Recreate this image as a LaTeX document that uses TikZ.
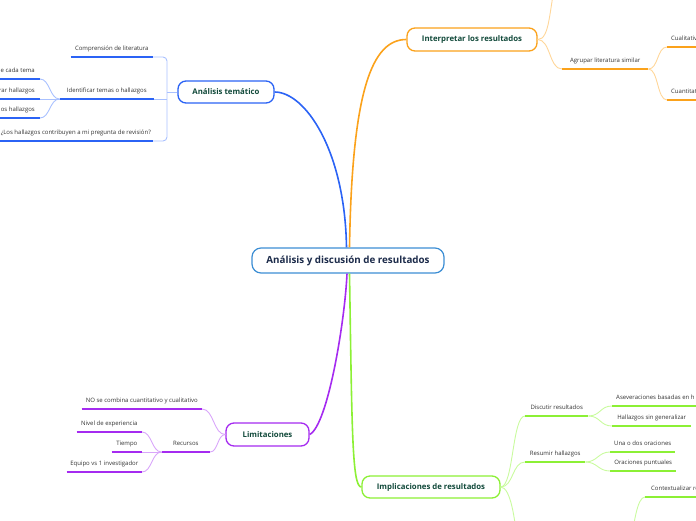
\documentclass[tikz,border=0pt]{standalone}
\usepackage{fontspec}
\setmainfont{Open Sans}
\definecolor{bmain}{HTML}{2B63F5}
\definecolor{blite}{HTML}{A9C1FF}
\definecolor{omain}{HTML}{FBA21B}
\definecolor{olite}{HTML}{FFD699}
\definecolor{pmain}{HTML}{A52BF0}
\definecolor{plite}{HTML}{D9A6FA}
\definecolor{gmain}{HTML}{8CF035}
\definecolor{glite}{HTML}{C9FB9E}
\definecolor{cborder}{HTML}{3C8ED4}
\definecolor{ctext}{HTML}{1C2B4A}
\definecolor{btext}{HTML}{124A3B}
\definecolor{ltext}{HTML}{333333}
\tikzset{
  central/.style={draw=cborder, line width=1.2pt, rounded corners=9pt, fill=white, text=ctext,
    font=\bfseries\fontsize{9.8}{11}\selectfont, minimum width=192pt, minimum height=25pt, inner sep=0pt},
  branch/.style={draw=#1, line width=1.3pt, rounded corners=8pt, fill=white, text=btext,
    font=\bfseries\fontsize{7.8}{9}\selectfont, inner sep=0pt},
  leaf/.style={text=ltext, font=\fontsize{6}{7}\selectfont, inner xsep=0pt, inner ysep=4.8pt,
    text height=4.5pt, text depth=1.4pt},
  mainedge/.style={line width=1.6pt},
  lite/.style={line width=0.9pt},
  uline/.style={line width=1.8pt},
}
\begin{document}
\begin{tikzpicture}[x=1pt,y=-1pt]
\useasboundingbox (0,0) rectangle (696,520);
\clip (0,0) rectangle (696,520);

% central and branch boxes
\node[central] (c) at (348,260.5) {Análisis y discusión de resultados};
\node[branch=bmain, minimum width=96pt, minimum height=22pt] (at) at (226,92) {Análisis temático};
\node[branch=omain, minimum width=130pt, minimum height=23pt] (ir) at (472,39.5) {Interpretar los resultados};
\node[branch=pmain, minimum width=83pt, minimum height=23pt] (li) at (267.5,434.5) {Limitaciones};
\node[branch=gmain, minimum width=138pt, minimum height=22pt] (im) at (431,487) {Implicaciones de resultados};

% main edges
\draw[bmain, mainedge] ([xshift=-1.5pt]c.north) .. controls (345,150) and (305,92) .. (at.east);
\draw[omain, mainedge] ([xshift=1.5pt]c.north) .. controls (352,90) and (372,39.5) .. (ir.west);
\draw[pmain, mainedge] (li.east) .. controls (328,425) and (345,320) .. ([xshift=-1pt]c.south);
\draw[gmain, mainedge] ([xshift=1.5pt]c.south) .. controls (352,430) and (352,487) .. (im.west);

% ---- Análisis temático (blue)
\node[leaf, anchor=south east, minimum width=82pt] (cmp) at (153,57) {Comprensión de literatura};
\node[leaf, anchor=south east, minimum width=94pt] (idt) at (154,99) {Identificar temas o hallazgos};
\node[leaf, anchor=south east, minimum width=154pt] (prg) at (153,141) {¿Los hallazgos contribuyen a mi pregunta de revisión?};
\node[leaf, anchor=south east, inner xsep=5pt] (g1) at (40,79) {e cada tema};
\node[leaf, anchor=south east, inner xsep=5pt] (g2) at (40,99) {rar hallazgos};
\node[leaf, anchor=south east, inner xsep=5pt] (g3) at (40,118) {os hallazgos};
\coordinate (atb) at (167,92);
\draw[blite, lite, rounded corners=4pt] (cmp.south east) -| (atb) |- (prg.south east);
\draw[blite, lite] (atb) -- (at.west);
\draw[blite, lite] (idt.south east) -- (idt.south east -| atb);
\draw[blite, lite] (g1.south east) .. controls +(10,0) and +(-10,0) .. (idt.south west);
\draw[blite, lite] (g2.south east) -- (idt.south west);
\draw[blite, lite] (g3.south east) .. controls +(10,0) and +(-10,0) .. (idt.south west);
\draw[bmain, uline] (cmp.south west) -- (cmp.south east);
\draw[bmain, uline] (idt.south west) -- (idt.south east);
\draw[bmain, uline] (prg.south west) -- (prg.south east);
\draw[bmain, uline] (g1.south east) -- ++(-50,0);
\draw[bmain, uline] (g2.south east) -- ++(-50,0);
\draw[bmain, uline] (g3.south east) -- ++(-50,0);

% ---- Interpretar los resultados (orange)
\node[leaf, anchor=south west, minimum width=86pt] (agr) at (562,69) {Agrupar literatura similar};
\node[leaf, anchor=south west, inner xsep=4pt] (cq1) at (667,47) {Cualitativ};
\node[leaf, anchor=south west, inner xsep=4pt] (cq2) at (667,100) {Cuantitat};
\coordinate (up) at (556,-20);
\draw[olite, lite] (ir.east) .. controls (550,39.5) and (549,10) .. (up);
\draw[olite, lite] (ir.east) .. controls +(13,0) and +(-13,0) .. (agr.south west);
\draw[olite, lite] (agr.south east) .. controls +(10,0) and +(-10,0) .. (cq1.south west);
\draw[olite, lite] (agr.south east) .. controls +(10,0) and +(-10,0) .. (cq2.south west);
\draw[omain, uline] (agr.south west) -- (agr.south east);
\draw[omain, uline] (cq1.south west) -- ++(40,0);
\draw[omain, uline] (cq2.south west) -- ++(40,0);

% ---- Limitaciones (purple)
\node[leaf, anchor=south east, minimum width=120pt] (nos) at (202,409) {NO se combina cuantitativo y cualitativo};
\node[leaf, anchor=south east, minimum width=48pt] (rec) at (210,452) {Recursos};
\node[leaf, anchor=south east, minimum width=65pt] (niv) at (142,432) {Nivel de experiencia};
\node[leaf, anchor=south east, minimum width=30pt] (tie) at (142,452) {Tiempo};
\node[leaf, anchor=south east, minimum width=75pt] (equ) at (142,472) {Equipo vs 1 investigador};
\draw[plite, lite] (li.west) .. controls +(-12,0) and +(12,0) .. (nos.south east);
\draw[plite, lite] (li.west) .. controls +(-8,0) and +(8,0) .. (rec.south east);
\draw[plite, lite] (rec.south west) .. controls +(-10,0) and +(10,0) .. (niv.south east);
\draw[plite, lite] (rec.south west) -- (tie.south east);
\draw[plite, lite] (rec.south west) .. controls +(-10,0) and +(10,0) .. (equ.south east);
\draw[pmain, uline] (nos.south west) -- (nos.south east);
\draw[pmain, uline] (rec.south west) -- (rec.south east);
\draw[pmain, uline] (niv.south west) -- (niv.south east);
\draw[pmain, uline] (tie.south west) -- (tie.south east);
\draw[pmain, uline] (equ.south west) -- (equ.south east);

% ---- Implicaciones de resultados (green)
\node[leaf, anchor=south west, minimum width=63pt] (dis) at (525,416) {Discutir resultados};
\node[leaf, anchor=south west, minimum width=60pt] (res) at (525,462) {Resumir hallazgos};
\node[leaf, anchor=south west, inner xsep=4pt] (ase) at (612,406) {Aseveraciones basadas en h};
\node[leaf, anchor=south west, minimum width=79pt] (hal) at (612,426) {Hallazgos sin generalizar};
\node[leaf, anchor=south west, minimum width=65pt] (una) at (610,452) {Una o dos oraciones};
\node[leaf, anchor=south west, minimum width=66pt] (ora) at (610,471) {Oraciones puntuales};
\node[leaf, anchor=south west, inner xsep=6pt] (ctx) at (645,497) {Contextualizar re};
\coordinate (dn1) at (517,540);
\coordinate (dn2) at (631,540);
\draw[glite, lite] (im.east) .. controls +(13,0) and +(-13,0) .. (dis.south west);
\draw[glite, lite] (im.east) .. controls +(13,0) and +(-13,0) .. (res.south west);
\draw[glite, lite] (im.east) .. controls +(10,0) and +(-2,-20) .. (dn1);
\draw[glite, lite] (dis.south east) .. controls +(12,0) and +(-12,0) .. (ase.south west);
\draw[glite, lite] (dis.south east) .. controls +(12,0) and +(-12,0) .. (hal.south west);
\draw[glite, lite] (res.south east) .. controls +(12,0) and +(-12,0) .. (una.south west);
\draw[glite, lite] (res.south east) .. controls +(12,0) and +(-12,0) .. (ora.south west);
\draw[glite, lite] (ctx.south west) .. controls +(-8,0) and +(3,-15) .. (dn2);
\draw[gmain, uline] (dis.south west) -- (dis.south east);
\draw[gmain, uline] (res.south west) -- (res.south east);
\draw[gmain, uline] (ase.south west) -- ++(100,0);
\draw[gmain, uline] (hal.south west) -- (hal.south east);
\draw[gmain, uline] (una.south west) -- (una.south east);
\draw[gmain, uline] (ora.south west) -- (ora.south east);
\draw[gmain, uline] (ctx.south west) -- ++(60,0);
\end{tikzpicture}
\end{document}
